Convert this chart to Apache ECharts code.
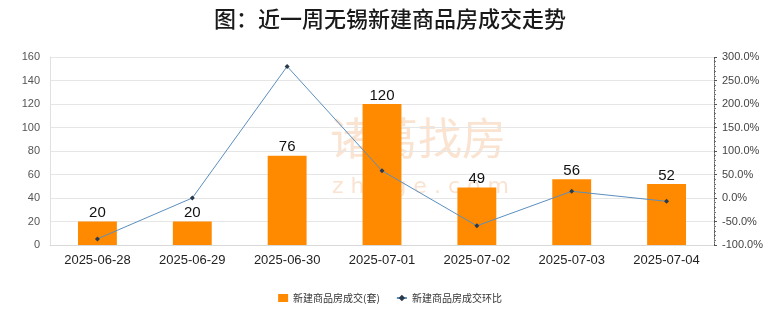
<!DOCTYPE html>
<html><head><meta charset="utf-8">
<script src="https://cdn.jsdelivr.net/npm/echarts@6/dist/echarts.min.js"></script>
<style>html,body{margin:0;padding:0;background:#fff}#c{width:780px;height:328px}</style>
</head><body><div id="c"></div>
<script>
const categories = ['2025-06-28','2025-06-29','2025-06-30','2025-07-01','2025-07-02','2025-07-03','2025-07-04'];
const deals = [20, 20, 76, 120, 49, 56, 52];
const ratio = [-87.0, 0.0, 280.0, 57.9, -59.2, 14.3, -7.1];
const barName = '新建商品房成交(套)';
const lineName = '新建商品房成交环比';
const titleText = '图：近一周无锡新建商品房成交走势';

const chart = echarts.init(document.getElementById('c'));
chart.setOption({
  animation: false,
  backgroundColor: '#fff',
  title: { text: titleText, left: 'center', top: 3,
    textStyle: { fontSize: 22, fontWeight: 500, color: '#1a1a1a', fontFamily: 'Noto Sans CJK SC' } },
  graphic: [
    { type: 'text', left: 330, top: 116, z: -1, style: { text: '诸葛找房', fontSize: 44, fill: 'rgba(240,175,120,0.35)', fontFamily: 'Noto Sans CJK SC' } },
    { type: 'text', left: 332, top: 176, z: -1, style: { text: 'z h u g e . c o m', fontSize: 22, fill: 'rgba(240,175,120,0.35)', fontFamily: 'DejaVu Sans' } }
  ],
  legend: { bottom: 20, left: 'center', itemWidth: 10, itemHeight: 8, itemGap: 16,
    textStyle: { fontSize: 10, color: '#333', fontFamily: 'Noto Sans CJK SC' },
    data: [{ name: barName, icon: 'rect' }, { name: lineName }] },
  grid: { left: 50, right: 66, top: 57, bottom: 83 },
  xAxis: { type: 'category', data: categories,
    axisLine: { lineStyle: { color: '#d9d9d9' } }, axisTick: { show: false },
    axisLabel: { fontSize: 13, color: '#222', margin: 9, fontFamily: 'Liberation Sans Narrow, Liberation Sans' } },
  yAxis: [
    { type: 'value', min: 0, max: 160, interval: 20,
      axisLine: { show: true, lineStyle: { color: '#e0e0e0' } }, axisTick: { show: false },
      splitLine: { lineStyle: { color: '#e6e6e6' } },
      axisLabel: { fontSize: 11, color: '#555', margin: 10 } },
    { type: 'value', min: -100, max: 300, interval: 50,
      axisLine: { show: true, lineStyle: { color: '#555', type: 'dotted' } },
      axisTick: { show: true, length: 3, lineStyle: { color: '#555' } },
      minorTick: { show: true, splitNumber: 5, length: 2, lineStyle: { color: '#777' } },
      splitLine: { show: false },
      axisLabel: { fontSize: 11, color: '#444', formatter: v => v.toFixed(1) + '%' } }
  ],
  series: [
    { name: barName, type: 'bar', data: deals, barWidth: '41%', itemStyle: { color: '#FF8A00' },
      label: { show: true, position: 'top', fontSize: 15, color: '#111', distance: 1 } },
    { name: lineName, type: 'line', yAxisIndex: 1, data: ratio, symbol: 'diamond', symbolSize: 5,
      lineStyle: { color: '#5b8fbf', width: 1 }, itemStyle: { color: '#2b3a4a' } }
  ]
});
</script></body></html>
